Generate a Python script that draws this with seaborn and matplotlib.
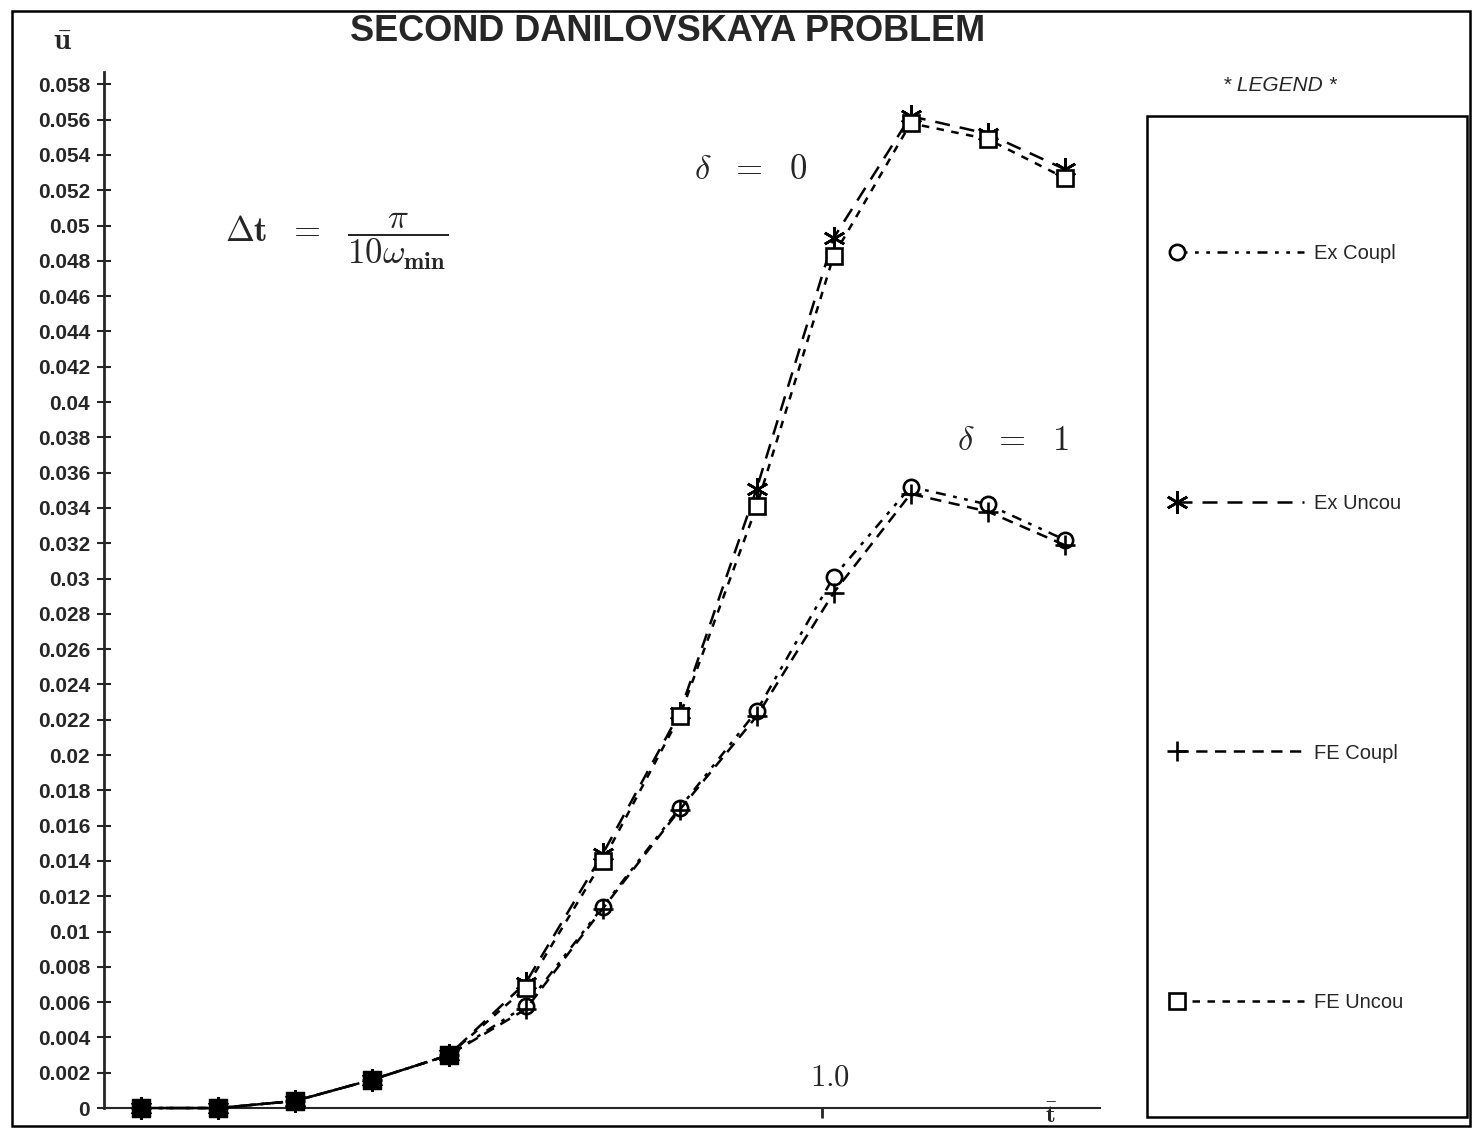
import numpy as np
import pandas as pd
import matplotlib
matplotlib.use("Agg")
import matplotlib.pyplot as plt
import seaborn as sns
from matplotlib.legend_handler import HandlerLine2DCompound
from matplotlib.lines import Line2D
from matplotlib.patches import Rectangle

# time levels (t-bar) and displacement u-bar
t_vals = [0.0, 0.113, 0.226, 0.339, 0.452, 0.565, 0.678, 0.791, 0.904, 1.017, 1.130, 1.243, 1.356]
ex_coupl = [0.0, 0.0, 0.0004, 0.0016, 0.0030, 0.0058, 0.0114, 0.0170, 0.0225, 0.0301, 0.0352, 0.0342, 0.0322]
ex_uncou = [0.0, 0.0, 0.0004, 0.0016, 0.0030, 0.0071, 0.0144, 0.0224, 0.0351, 0.0493, 0.0562, 0.0552, 0.0532]
fe_coupl = [0.0, 0.0, 0.0004, 0.0016, 0.0030, 0.0056, 0.0113, 0.0169, 0.0222, 0.0292, 0.0348, 0.0338, 0.0319]
fe_uncou = [0.0, 0.0, 0.0004, 0.0016, 0.0030, 0.0068, 0.0140, 0.0222, 0.0341, 0.0483, 0.0558, 0.0549, 0.0527]
n_common = 5  # first steps where all four solutions coincide

series = {"Ex Coupl": ex_coupl, "Ex Uncou": ex_uncou, "FE Coupl": fe_coupl, "FE Uncou": fe_uncou}
styles = {
    "Ex Coupl": dict(linestyle=(0, (4, 3, 1.5, 3, 1.5, 3)), marker="o", markersize=11, mfc="white"),
    "Ex Uncou": dict(linestyle=(0, (6, 4)), marker=(6, 2, 0), markersize=16, mfc="black"),
    "FE Coupl": dict(linestyle=(0, (4.5, 3)), marker="+", markersize=14, mfc="black"),
    "FE Uncou": dict(linestyle=(0, (3, 3)), marker="s", markersize=11, mfc="white"),
}

df = pd.DataFrame([(k, t, u) for k, v in series.items() for t, u in zip(t_vals, v)],
                  columns=["case", "t", "u"])

sns.set_style("white")
plt.rcParams["font.family"] = ["Liberation Sans", "DejaVu Sans"]
plt.rcParams["mathtext.fontset"] = "cm"

fig = plt.figure(figsize=(14.76, 11.31), dpi=100)
ax = fig.add_axes([0.0705, 0.0203, 0.6748, 0.916])

for name, st in styles.items():
    sub = df[df["case"] == name]
    sns.lineplot(data=sub, x="t", y="u", ax=ax, color="black", lw=1.8,
                 linestyle=st["linestyle"], marker=st["marker"], markersize=st["markersize"],
                 markerfacecolor=st["mfc"], markeredgecolor="black", markeredgewidth=1.9,
                 label=name, clip_on=False, zorder=3)

# coincident points drawn as one filled symbol
common = df[df["case"] == "Ex Coupl"].iloc[:n_common]
sns.scatterplot(data=common, x="t", y="u", ax=ax, marker="s", s=170, color="black",
                edgecolor="black", clip_on=False, zorder=4, legend=False)

ax.set_xlim(-0.054, 1.408)
ax.set_ylim(0, 0.0587)
yt = np.arange(0, 0.0581, 0.002)
ax.set_yticks(yt)
ax.set_yticklabels([("%.3f" % v).rstrip("0").rstrip(".") if v > 0 else "0" for v in yt],
                   fontsize=15, fontweight="bold")
ax.tick_params(axis="y", direction="inout", length=10, width=1.5, left=True, pad=5)
ax.set_xticks([1.0])
ax.set_xticklabels([""])
ax.tick_params(axis="x", direction="out", length=7, width=2, bottom=True)
ax.set_xlabel("")
ax.set_ylabel("")
for s in ["top", "right"]:
    ax.spines[s].set_visible(False)
ax.spines["left"].set_linewidth(2)
ax.spines["bottom"].set_linewidth(1.5)
ax.get_legend().remove()

ax.text(1.011, 0.0009, r"$\mathbf{1.0}$", fontsize=22, ha="center", va="bottom")
ax.text(1.337, 0.0003, r"$\bar{\mathbf{t}}$", fontsize=18, ha="center", va="top")
ax.text(0.895, 0.0532, r"$\delta\ \ \mathbf{=}\ \ \mathbf{0}$", fontsize=25, ha="center", va="center")
ax.text(1.28, 0.0378, r"$\delta\ \ \mathbf{=}\ \ \mathbf{1}$", fontsize=25, ha="center", va="center")
ax.text(0.123, 0.0491, r"$\mathbf{\Delta t}\ \ \mathbf{=}\ \ \dfrac{\pi}{\mathbf{10}\omega_{\mathbf{min}}}$",
        fontsize=25, ha="left", va="center")

fig.text(0.042, 0.963, r"$\bar{\mathbf{u}}$", fontsize=22, ha="center", va="center")
fig.text(0.452, 0.972, "SECOND DANILOVSKAYA PROBLEM", fontsize=26, fontweight="bold",
         ha="center", va="center")

# page frame and legend box
fig.patches.append(Rectangle((0.008, 0.004), 0.988, 0.986, transform=fig.transFigure,
                             fill=False, lw=1.8, color="black"))
fig.patches.append(Rectangle((0.777, 0.012), 0.217, 0.885, transform=fig.transFigure,
                             fill=False, lw=1.8, color="black"))
fig.text(0.867, 0.924, "* LEGEND *", fontsize=15, fontstyle="italic", ha="center", va="center")


class StartMarker(HandlerLine2DCompound):
    # symbol at the left end of the sample line, as in the original legend
    def get_xdata(self, legend, xdescent, ydescent, width, height, fontsize):
        xdata = np.array([-xdescent, -xdescent + width])
        return xdata, np.array([-xdescent])


handles, labels = ax.get_legend_handles_labels()
fig.legend(handles[:4], labels[:4], loc="upper left", bbox_to_anchor=(0.785, 0.800),
           frameon=False, fontsize=14.5, handlelength=6.3, handletextpad=0.5,
           labelspacing=11.45, handler_map={Line2D: StartMarker()})

fig.savefig("out.png", dpi=100)
